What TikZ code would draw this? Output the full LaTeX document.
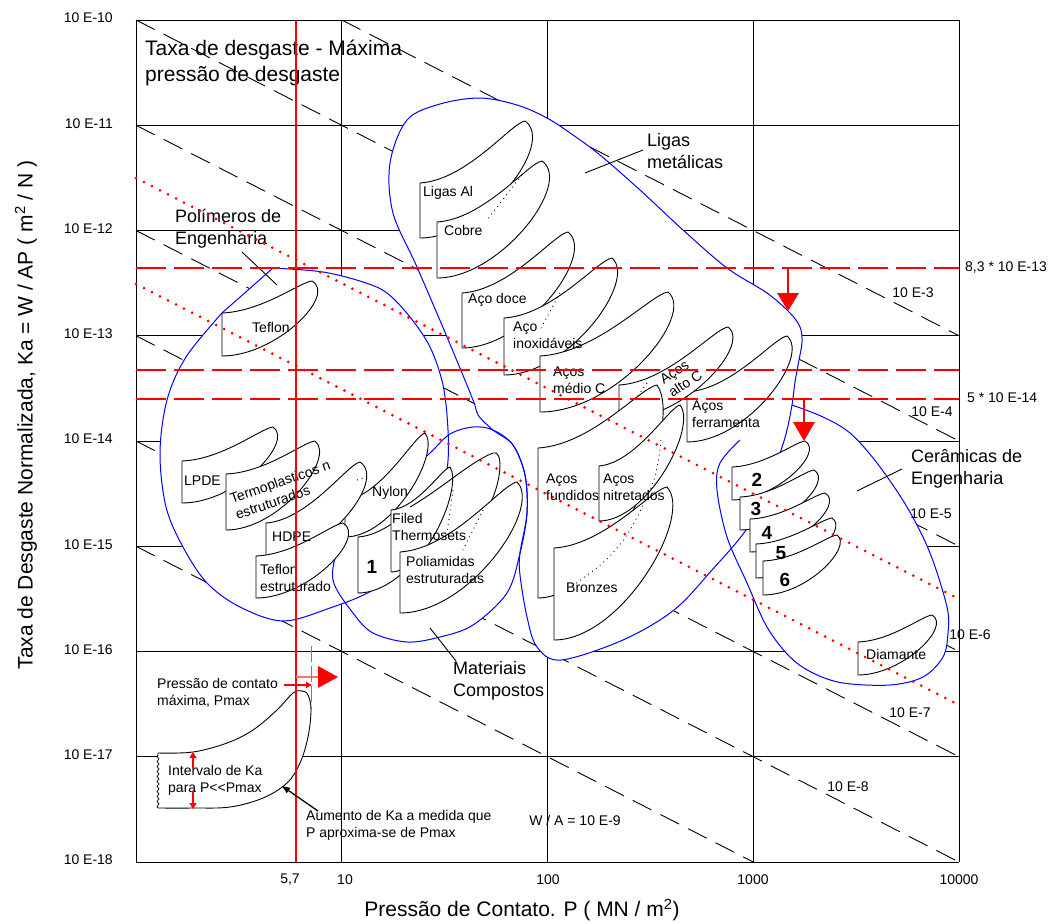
\documentclass[tikz,border=0pt]{standalone}
\usepackage{fontspec}
\setmainfont{Liberation Sans}
\usetikzlibrary{arrows.meta,decorations.pathmorphing}
% blob: x0, ytop, ybot, xtip, ytip, bulge
\newcommand\blob[6]{%
  \draw[blobst] (#1,#3) -- (#1,#2)
    .. controls ({#1+0.45*(#4-#1)},{#2-0.05*(#2-#5)}) and ({#4-0.13*(#4-#1)},{#5+0.03*(#2-#5)}) .. (#4,#5)
    .. controls ({#4+#6*(#4-#1)},{#5+0.19*(#3-#5)}) and ({#1+0.6*(#4-#1)},{#3}) .. (#1,#3) -- cycle;}
\begin{document}
\begin{tikzpicture}[x=1pt,y=-1pt,
  gridl/.style={black, line width=0.9pt},
  wal/.style={black, line width=0.9pt, dash pattern=on 21pt off 10pt},
  regline/.style={draw=blue, line width=1pt},
  blobst/.style={draw=black, fill=white, line width=0.9pt},
  dotl/.style={black, line width=0.9pt, dash pattern=on 0.9pt off 4pt},
  rdash/.style={red, line width=2.8pt, dash pattern=on 30pt off 8pt},
  rdot/.style={red, line width=3pt, line cap=round, dash pattern=on 0pt off 9pt},
  tick/.style={font=\fontsize{14}{17}\selectfont, inner sep=0pt},
  blab/.style={font=\fontsize{14}{17}\selectfont, inner sep=0pt, anchor=west, align=left},
  rlab/.style={font=\fontsize{18}{22}\selectfont, inner sep=0pt, anchor=west, align=left},
  num/.style={font=\fontsize{19}{22}\selectfont\bfseries, inner sep=0pt},
  ptr/.style={black, line width=0.9pt}]
\useasboundingbox[fill=white] (0,0) rectangle (1058,924);
% ---------- grid ----------
\foreach \rr in {0,...,8} \draw[gridl] (136,{20+105.25*\rr}) -- (959,{20+105.25*\rr});
\foreach \cl in {0,...,4} \draw[gridl] ({136+205.75*\cl},20) -- ({136+205.75*\cl},862);
\foreach \ca/\ra/\cb/\rb in {1/0/4/3,0/0/4/4,0/1/4/5,0/2/4/6,0/3/4/7,0/4/4/8,0/5/3/8}
  \draw[wal] ({136+205.75*\ca},{20+105.25*\ra}) -- ({136+205.75*\cb},{20+105.25*\rb});
% ---------- regions: fills ----------
\fill[white] plot[smooth cycle, tension=0.55] coordinates {(480,98) (517,105) (547,118) (573,135) (600,155) (640,190) (683,230) (727,268) (767,293) (790,313) (800,327) (802,342) (799,360) (795,382) (792,405) (787,430) (780,453) (764,494) (746,530) (712,570) (674,610) (623,640) (561,660) (537,647) (527,617) (520,575) (520,553) (527,513) (525,475) (513,445) (493,430) (478,415) (473,400) (447,337) (417,267) (393,213) (390,163) (407,120) (440,104)};
\fill[white] plot[smooth cycle, tension=0.55] coordinates {(792,405) (823,417) (850,433) (877,463) (907,507) (930,553) (947,607) (948,633) (943,657) (923,677) (890,685) (843,683) (813,673) (790,657) (767,627) (747,583) (727,537) (717,490) (720,463) (740,440) (765,420)};
\fill[white] plot[smooth, tension=0.55] coordinates {(273,268) (323,272) (363,282) (387,293) (410,317) (430,347) (443,385) (448,430) (447,470) (435,520) (410,560) (373,590) (330,608) (283,621) (240,607) (207,583) (183,547) (166,507) (160,453) (167,400) (186,357) (222,313)} -- cycle;
\fill[white] plot[smooth cycle, tension=0.55] coordinates {(430,453) (450,434) (473,427) (493,430) (513,445) (525,475) (527,513) (520,553) (507,593) (473,625) (440,637) (407,642) (373,633) (353,613) (333,580) (340,545) (365,512) (400,480)};
% ---------- regions: outlines ----------
\draw[regline] plot[smooth cycle, tension=0.55] coordinates {(480,98) (517,105) (547,118) (573,135) (600,155) (640,190) (683,230) (727,268) (767,293) (790,313) (800,327) (802,342) (799,360) (795,382) (792,405) (787,430) (780,453) (764,494) (746,530) (712,570) (674,610) (623,640) (561,660) (537,647) (527,617) (520,575) (520,553) (527,513) (525,475) (513,445) (493,430) (478,415) (473,400) (447,337) (417,267) (393,213) (390,163) (407,120) (440,104)};
\draw[regline] plot[smooth, tension=0.55] coordinates {(792,405) (823,417) (850,433) (877,463) (907,507) (930,553) (947,607) (948,633) (943,657) (923,677) (890,685) (843,683) (813,673) (790,657) (767,627) (747,583) (727,537) (717,490) (720,463) (740,440)};
\draw[regline] plot[smooth, tension=0.55] coordinates {(273,268) (323,272) (363,282) (387,293) (410,317) (430,347) (443,385) (448,430) (447,470) (435,520) (410,560) (373,590) (330,608) (283,621) (240,607) (207,583) (183,547) (166,507) (160,453) (167,400) (186,357) (222,313)} -- cycle;
\draw[regline] plot[smooth cycle, tension=0.55] coordinates {(430,453) (450,434) (473,427) (493,430) (513,445) (525,475) (527,513) (520,553) (507,593) (473,625) (440,637) (407,642) (373,633) (353,613) (333,580) (340,545) (365,512) (400,480)};
% ---------- metal blobs ----------
\blob{420}{183}{238}{525}{121}{0.3}
\blob{437}{222}{278}{542}{161}{0.3}
\blob{462}{293}{348}{568}{232}{0.27}
\blob{504}{318}{375}{612}{258}{0.24}
\blob{540}{356}{412}{668}{292}{0.22}
\blob{687}{392}{442}{787}{336}{0.24}
\blob{619}{385}{420}{728}{327}{0.22}
\blob{538}{448}{598}{657}{385}{0.24}
\blob{599}{466}{521}{680}{405}{0.22}
\blob{554}{548}{640}{667}{487}{0.24}
\draw[dotl] (522,175) -- (487,220);
\draw[dotl] (560,293) -- (540,330);
\draw[dotl] (647,383) -- (637,397);
\draw[dotl] plot[smooth] coordinates {(661,440) (654,480) (630,530) (606,560) (571,587)};
% ---------- polymer / composite blobs ----------
\blob{222}{313}{356}{312}{281}{0.28}
\blob{345}{500}{537}{425}{433}{0.2}
\blob{182}{461}{503}{273}{427}{0.24}
\blob{226}{474}{530}{315}{441}{0.24}
\blob{266}{523}{560}{360}{462}{0.3}
\blob{256}{556}{598}{343}{523}{0.28}
\blob{358}{537}{593}{445}{480}{0.2}
\blob{391}{510}{572}{450}{467}{0.22}
\draw[black, line width=0.9pt] (410,507) .. controls (440,490) and (470,462) .. (493,453) .. controls (503,449) and (503,480) .. (488,508);
\blob{400}{552}{613}{517}{482}{0.22}
\draw[dotl] (357,480) -- (367,477);
\draw[dotl] (453,490) -- (447,533);
\draw[dotl] (483,510) -- (463,550);
% ---------- ceramic blobs ----------
\blob{732}{467}{500}{805}{441}{0.27}
\blob{740}{497}{530}{814}{470}{0.27}
\blob{750}{519}{552}{825}{493}{0.27}
\blob{756}{544}{578}{832}{518}{0.24}
\blob{763}{561}{595}{837}{535}{0.22}
\blob{858}{642}{675}{932}{615}{0.27}
% ---------- sample blob ----------
\fill[white] plot[smooth, tension=0.6] coordinates {(158,753) (193,752) (227,743) (253,730) (277,710) (293,693) (302,691) (308,695) (311,710) (308,737) (300,763) (287,783) (263,798) (230,807) (193,808) (158,808)} -- cycle;
\draw[black, line width=0.9pt] plot[smooth, tension=0.6] coordinates {(158,753) (193,752) (227,743) (253,730) (277,710) (293,693) (302,691) (308,695) (311,710) (308,737) (300,763) (287,783) (263,798) (230,807) (193,808) (158,808)};
\draw[black, line width=0.7pt, decorate, decoration={snake, amplitude=1pt, segment length=5pt}] (158,808) -- (158,753);
% ---------- axis tick labels ----------
\foreach \rr/\tt in {0/10,1/11,2/12,3/13,4/14,5/15,6/16,7/17,8/18}
  \node[tick, anchor=east] (ty\rr) at (113,{18+105.25*\rr}) {10 E-\tt};
\node[tick] (tx57) at (290,880) {5,7};
\node[tick] (tx1) at (345,880) {10};
\node[tick] (tx2) at (548,880) {100};
\node[tick] (tx3) at (753,880) {1000};
\node[tick] (tx4) at (959,880) {10000};
\node[font=\fontsize{21}{24}\selectfont, inner sep=0pt] (xtitle) at (522,910) {Pressão de Contato. P ( MN / m\textsuperscript{2})};
\node[font=\fontsize{21}{24}\selectfont, inner sep=0pt, rotate=90] (ytitle) at (26,415) {Taxa de Desgaste Normalizada, Ka = W / AP ( m\textsuperscript{2} / N )};
\node[font=\fontsize{21}{26}\selectfont, inner sep=0pt, anchor=west, align=left] (title) at (145,63) {Taxa de desgaste - Máxima\\pressão de desgaste};
% ---------- constant W/A labels ----------
\node[tick] (w3) at (913,293) {10 E-3};
\node[tick] (w4) at (932,412) {10 E-4};
\node[tick] (w5) at (931,514) {10 E-5};
\node[tick] (w6) at (970,635) {10 E-6};
\node[tick] (w7) at (910,713) {10 E-7};
\node[tick] (w8) at (848,787) {10 E-8};
\node[tick] (w9) at (575,820) {W / A = 10 E-9};
\node[tick, anchor=west] (r1) at (965,268) {8,3 * 10 E-13};
\node[tick, anchor=west] (r2) at (967,398) {5 * 10 E-14};
% ---------- region labels ----------
\node[rlab] (ligas) at (647,151) {Ligas\\metálicas};
\coordinate (ligasP) at (585,173);
\draw[ptr] (643,150) -- (ligasP);
\node[rlab] (poli) at (175,229) {Polímeros de\\Engenharia};
\coordinate (poliP) at (277,285);
\draw[ptr] (242,252) -- (poliP);
\node[rlab] (cera) at (911,469) {Cerâmicas de\\Engenharia};
\coordinate (ceraP) at (857,491);
\draw[ptr] (902,469) -- (ceraP);
\node[rlab] (comp) at (453,681) {Materiais\\Compostos};
\coordinate (compP) at (430,628);
\draw[ptr] (456,661) -- (compP);
% ---------- blob labels ----------
\node[blab] (lal) at (423,193) {Ligas Al};
\node[blab] (cob) at (444,230) {Cobre};
\node[blab] (doce) at (468,300) {Aço doce};
\node[blab] (inox) at (513,335) {Aço\\inoxidáveis};
\node[blab] (medio) at (553,380) {Aços\\médio C};
\node[font=\fontsize{14}{16}\selectfont, inner sep=0pt, align=left, rotate=33] (alto) at (681,377) {Aços\\alto C};
\node[blab] (ferr) at (692,414) {Aços\\ferramenta};
\node[blab] (fund) at (546,487) {Aços\\fundidos};
\node[blab] (nitr) at (603,487) {Aços\\nitretados};
\node[blab] (bron) at (566,588) {Bronzes};
\node[blab] (tef) at (252,327) {Teflon};
\node[blab] (lpde) at (184,481) {LPDE};
\node[blab, rotate=19] (termo) at (233,507) {Termoplasticos n\\estruturados};
\node[blab] (hdpe) at (272,537) {HDPE};
\node[blab] (tefe) at (260,578) {Teflon\\estruturado};
\node[blab] (nyl) at (372,493) {Nylon};
\node[blab] (filed) at (392,527) {Filed\\Thermosets};
\node[blab] (poliam) at (406,570) {Poliamidas\\estruturadas};
\node[num] (n1) at (372,567) {1};
\node[num] (n2) at (757,480) {2};
\node[num] (n3) at (756,509) {3};
\node[num] (n4) at (767,533) {4};
\node[num] (n5) at (781,553) {5};
\node[num] (n6) at (785,580) {6};
\node[blab] (diam) at (866,654) {Diamante};
\node[blab] (pmax) at (157,693) {Pressão de contato\\máxima, Pmax};
\node[blab] (interv) at (168,780) {Intervalo de Ka\\para P<{}<Pmax};
\node[blab] (aum) at (306,825) {Aumento de Ka a medida que\\P aproxima-se de Pmax};
% ---------- red lines ----------
\draw[rdot] (136,178) -- (959,599);
\draw[rdot] (136,284) -- (959,705);
\draw[rdash] (136,268) -- (959,268);
\draw[rdash] (136,370) -- (959,370);
\draw[rdash] (136,399) -- (959,399);
\draw[red, line width=2.2pt] (296,20) -- (296,862);
% arrows down
\coordinate (a1s) at (788,268);
\coordinate (a1e) at (788,294);
\draw[red, line width=1.2pt] (a1s) -- (a1e);
\fill[red] (777,293) -- (799,293) -- (788,311) -- cycle;
\coordinate (a2s) at (804,399);
\coordinate (a2e) at (804,423);
\draw[red, line width=1.2pt] (a2s) -- (a2e);
\fill[red] (793,422) -- (815,422) -- (804,441) -- cycle;
% Pmax marks
\draw[red!55, line width=1.2pt] (296,677) -- (318,677);
\fill[red] (318,666) -- (318,688) -- (338,677) -- cycle;
\draw[red!70, line width=0.9pt, dash pattern=on 16pt off 4pt] (311,646) -- (311,712);
\coordinate (pm1) at (284,685);
\coordinate (pm2) at (312,685);
\draw[red, line width=1.6pt, -{Triangle[length=6pt,width=6pt]}] (pm1) -- (pm2);
\coordinate (ka1) at (193,768);
\coordinate (ka2) at (193,752);
\coordinate (ka3) at (193,791);
\coordinate (ka4) at (193,809);
\draw[red, line width=1.6pt, -{Triangle[length=6pt,width=7pt]}] (ka1) -- (ka2);
\draw[red, line width=1.6pt, -{Triangle[length=6pt,width=7pt]}] (ka3) -- (ka4);
\coordinate (au1) at (318,811);
\coordinate (au2) at (282,786);
\draw[black, line width=1.3pt, -{Triangle[length=8pt,width=6pt]}] (au1) -- (au2);
\end{tikzpicture}
\end{document}
